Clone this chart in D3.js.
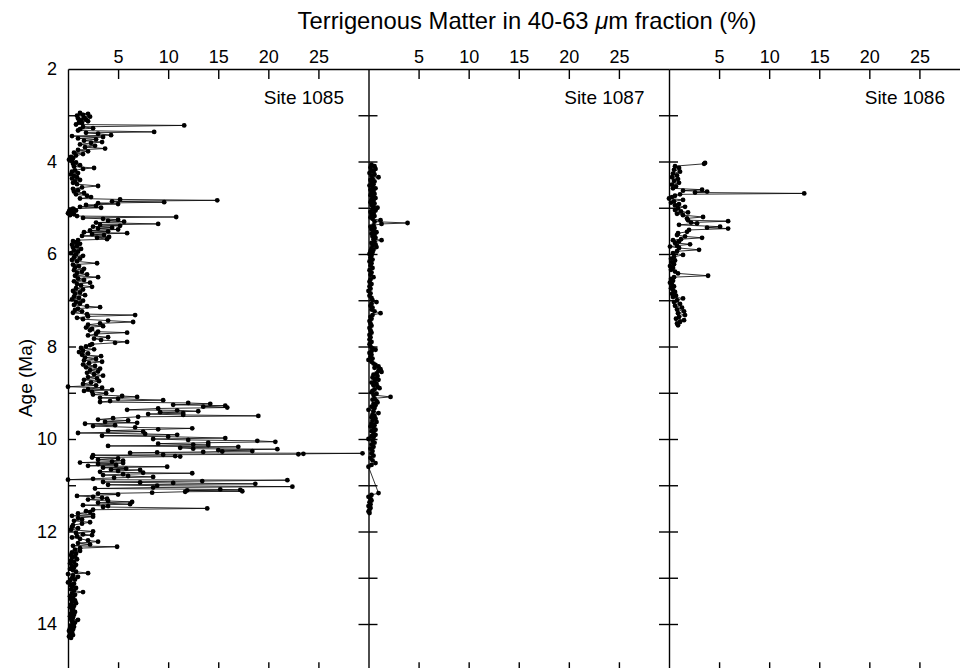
<!DOCTYPE html>
<html><head><meta charset="utf-8">
<script src="https://cdn.jsdelivr.net/npm/d3@7"></script>
<style>
html,body{margin:0;padding:0;background:#fff;}
svg{display:block;font-family:"Liberation Sans",Arial,Helvetica,sans-serif;}
</style></head>
<body>
<svg id="chart" width="960" height="668"></svg>
<script>
// ---------- DATA ----------
const siteNames = ["Site 1085", "Site 1087", "Site 1086"];
const xTickValues = [5, 10, 15, 20, 25];
const yTickLabels = [2, 4, 6, 8, 10, 12, 14];
const yMinorTicks = [3, 4, 5, 6, 7, 8, 9, 10, 11, 12, 13, 14, 15];

// [age (Ma), terrigenous matter (%)]
const site1085 = [
[2.95,1.2],[2.97,2.0],[2.99,1.5],[3.01,0.9],[3.03,2.2],[3.05,1.6],[3.07,1.0],[3.09,1.8],[3.11,1.3],[3.13,2.0],[3.15,1.1],[3.17,1.4],[3.2,0.8],
[3.22,11.6],[3.25,1.5],[3.28,2.5],[3.3,1.2],[3.33,1.0],[3.36,8.6],[3.38,1.8],[3.4,3.0],[3.43,4.3],[3.45,0.4],[3.47,3.5],[3.5,1.0],[3.52,2.8],[3.55,1.6],[3.58,3.4],[3.6,2.3],[3.63,1.2],[3.66,2.7],[3.69,1.7],[3.72,3.7],
[3.75,1.0],[3.78,2.0],[3.81,0.6],[3.84,1.5],[3.87,0.8],[3.9,0.3],[3.93,0.5],[3.96,0.1],[3.99,0.4],
[4.02,0.8],[4.05,0.5],[4.08,1.2],[4.11,0.6],[4.14,2.6],[4.16,1.5],[4.19,0.7],[4.22,0.4],[4.25,1.0],[4.28,0.3],[4.31,0.6],[4.34,0.9],[4.37,0.4],[4.4,1.2],[4.43,0.7],[4.46,0.5],
[4.49,0.9],[4.53,3.0],[4.56,1.4],[4.59,0.5],[4.62,1.0],[4.65,0.6],[4.68,1.6],[4.71,0.8],[4.74,1.9],[4.77,2.3],[4.8,1.2],[4.82,5.2],[4.84,14.9],[4.86,4.4],[4.88,9.6],[4.9,3.0],[4.92,5.0],[4.94,1.8],[4.96,2.8],[4.98,1.2],[5.0,3.3],
[5.02,0.5],[5.04,0.2],[5.06,0.8],[5.08,0.1],[5.1,0.4],[5.12,0.0],[5.14,0.6],[5.16,0.2],[5.18,0.9],[5.2,10.8],[5.22,1.5],[5.24,3.5],[5.26,5.0],[5.28,4.0],[5.3,5.6],[5.32,2.8],[5.35,9.0],[5.37,3.2],[5.39,5.2],[5.41,2.5],[5.43,4.4],[5.45,3.0],[5.47,5.0],[5.49,2.2],[5.51,4.0],[5.53,1.6],[5.55,5.9],[5.57,2.4],[5.59,3.6],[5.61,1.4],[5.63,4.1],[5.65,2.9],[5.68,3.9],[5.7,1.0],[5.72,0.5],
[5.75,0.8],[5.78,1.2],[5.8,0.4],[5.83,0.9],[5.86,0.5],[5.89,1.3],[5.92,0.6],[5.95,1.0],[5.98,0.3],[6.01,0.8],[6.04,1.5],[6.07,0.6],[6.1,1.2],[6.13,0.4],[6.16,0.9],[6.2,2.9],[6.23,0.5],[6.26,1.1],[6.29,0.7],[6.32,1.6],[6.35,0.6],[6.38,1.4],[6.41,0.9],[6.44,1.9],[6.47,0.7],[6.5,3.0],[6.53,1.0],[6.56,1.6],[6.59,0.6],[6.62,2.2],[6.65,0.9],[6.68,1.3],[6.71,2.4],[6.74,0.8],[6.77,1.5],[6.8,0.5],[6.83,1.2],[6.86,0.7],[6.89,1.7],[6.92,0.6],[6.95,1.1],[6.98,0.4],
[7.01,1.5],[7.04,0.8],[7.07,1.2],[7.1,0.6],[7.13,1.9],[7.15,3.2],[7.18,1.0],[7.21,0.7],[7.24,1.4],[7.27,0.5],[7.3,1.9],[7.32,6.7],[7.35,2.0],[7.38,0.9],[7.41,1.5],[7.44,4.0],[7.47,6.5],[7.5,3.2],[7.53,2.0],[7.56,3.5],[7.59,1.8],[7.62,2.4],[7.65,2.2],[7.68,3.0],[7.7,5.9],[7.73,2.8],[7.76,2.0],[7.8,4.0],[7.83,2.6],[7.86,3.3],[7.9,5.9],[7.92,4.7],[7.95,2.4],[7.97,2.2],[8.0,1.8],
[8.03,1.3],[8.06,2.6],[8.09,1.5],[8.12,1.1],[8.15,2.0],[8.18,1.4],[8.21,3.3],[8.24,1.7],[8.27,2.8],[8.3,1.6],[8.33,3.4],[8.36,2.1],[8.39,1.5],[8.42,2.7],[8.45,1.8],[8.48,3.2],[8.51,2.2],[8.54,3.0],[8.57,1.9],[8.6,2.6],[8.63,3.5],[8.66,2.0],[8.69,2.9],[8.72,1.6],[8.75,3.1],[8.78,2.3],[8.81,1.5],[8.84,2.8],[8.87,0.0],[8.89,3.4],[8.92,2.0],[8.94,4.4],[8.96,1.6],[8.98,2.4],
[9.01,3.8],[9.04,2.5],[9.07,5.4],[9.09,6.9],[9.11,3.2],[9.13,5.0],[9.16,9.5],[9.18,4.2],[9.2,3.2],[9.22,12.0],[9.24,14.2],[9.26,10.5],[9.28,15.7],[9.3,13.5],[9.32,15.9],[9.34,9.0],[9.37,5.9],[9.38,10.9],[9.4,13.0],[9.42,9.2],[9.44,11.5],[9.46,8.0],[9.48,11.5],[9.5,19.0],[9.52,7.0],[9.55,4.5],[9.58,3.0],[9.6,6.0],[9.63,3.7],[9.65,6.9],[9.67,1.7],[9.7,4.7],[9.72,2.5],[9.75,6.7],[9.77,12.4],[9.79,9.0],[9.82,4.0],[9.84,7.5],[9.87,1.0],[9.89,7.7],[9.91,10.9],[9.93,3.4],[9.95,10.0],[9.98,15.7],[10.0,8.5],
[10.02,12.0],[10.04,18.9],[10.06,20.7],[10.08,14.0],[10.1,9.0],[10.12,12.5],[10.13,14.0],[10.15,4.0],[10.17,17.0],[10.19,11.2],[10.21,12.5],[10.22,20.9],[10.24,15.0],[10.26,18.4],[10.27,15.4],[10.28,13.5],[10.29,8.9],[10.3,6.2],[10.31,29.4],[10.32,23.5],[10.33,23.0],[10.34,9.5],[10.35,2.5],[10.37,10.7],[10.38,11.2],[10.4,2.4],[10.42,5.0],[10.45,3.0],[10.47,5.5],[10.49,4.4],[10.51,1.2],[10.52,5.5],
[10.54,3.0],[10.56,4.8],[10.58,2.0],[10.6,9.9],[10.62,3.5],[10.64,5.8],[10.66,4.3],[10.67,7.2],[10.69,5.0],[10.71,3.2],[10.73,7.5],[10.74,12.4],[10.76,5.5],[10.78,3.5],[10.8,6.0],[10.82,8.5],[10.84,4.6],[10.86,2.5],[10.88,0.0],[10.89,21.9],[10.91,13.4],[10.93,3.5],[10.94,7.2],[10.95,10.5],[10.97,18.7],[10.99,4.0],[11.01,8.9],[11.03,22.4],[11.05,8.5],[11.07,2.7],[11.09,15.2],[11.1,17.2],[11.11,11.9],[11.13,17.4],[11.14,11.7],[11.16,8.4],[11.18,3.0],[11.2,5.0],
[11.23,0.9],[11.25,2.5],[11.27,3.4],[11.29,3.9],[11.31,2.0],[11.34,4.0],[11.36,6.4],[11.38,3.0],[11.41,6.2],[11.43,1.5],[11.45,4.0],[11.47,3.5],[11.5,13.9],[11.53,2.5],[11.56,1.8],[11.58,2.2],[11.61,1.0],[11.64,2.5],[11.66,0.4],[11.68,2.5],[11.71,1.0],[11.74,1.4],[11.77,0.6],[11.8,2.2],[11.83,1.4],[11.86,0.5],[11.9,0.4],[11.93,1.0],[11.96,0.3],
[12.0,2.5],[12.03,0.8],[12.06,1.5],[12.08,2.4],[12.1,0.9],[12.13,0.4],[12.16,1.2],[12.19,2.0],[12.22,3.0],[12.25,1.0],[12.28,2.2],[12.31,0.5],[12.33,4.9],[12.36,1.2],[12.39,0.7],[12.42,1.2],[12.45,0.4],[12.48,0.8],[12.51,0.3],[12.54,0.7],[12.57,0.4],[12.6,0.9],[12.63,0.3],[12.66,0.6],[12.69,0.2],[12.72,0.8],[12.75,0.4],[12.78,0.6],[12.81,0.2],[12.84,0.5],[12.87,0.8],[12.9,2.0],[12.92,0.0],[12.95,0.5],[12.98,1.0],
[13.01,0.4],[13.04,0.7],[13.07,0.2],[13.1,0.0],[13.13,0.6],[13.16,0.3],[13.19,0.4],[13.22,0.8],[13.25,0.3],[13.28,0.6],[13.31,1.5],[13.34,0.4],[13.37,0.7],[13.4,0.2],[13.43,0.5],[13.46,0.3],[13.49,0.7],[13.52,0.4],[13.55,0.8],[13.58,0.3],[13.61,0.6],[13.64,0.2],[13.67,0.5],[13.7,0.4],[13.74,0.7],[13.77,0.3],[13.8,0.6],[13.83,0.2],[13.86,0.5],[13.89,0.3],[13.91,1.0],[13.94,0.4],[13.97,0.7],
[14.0,0.5],[14.03,0.3],[14.06,0.6],[14.09,0.2],[14.12,0.5],[14.15,0.1],[14.18,0.4],[14.21,0.2],[14.24,0.5],[14.27,0.1],[14.3,0.3]
];

const site1087 = [
[4.07,0.3],[4.1,0.6],[4.13,0.2],[4.16,0.7],[4.19,0.3],[4.22,0.5],[4.25,0.1],[4.28,0.6],[4.31,0.3],[4.34,1.0],[4.37,0.4],[4.4,0.2],[4.43,0.6],[4.46,0.3],[4.49,0.5],[4.52,0.1],[4.55,0.4],[4.58,0.7],[4.61,0.2],[4.64,0.5],[4.67,0.3],[4.7,0.6],[4.73,0.2],[4.76,0.4],[4.79,0.7],[4.82,0.3],[4.85,0.5],[4.88,0.2],[4.91,0.6],[4.94,0.3],[4.97,0.5],
[5.0,0.9],[5.03,0.4],[5.06,0.7],[5.09,0.2],[5.12,0.5],[5.15,0.3],[5.18,0.6],[5.21,0.2],[5.24,0.4],[5.27,1.2],[5.3,0.6],[5.33,3.9],[5.35,1.3],[5.38,0.5],[5.41,0.2],[5.44,0.6],[5.47,0.3],[5.5,0.5],[5.53,0.8],[5.56,0.3],[5.59,0.6],[5.62,0.4],[5.65,0.7],[5.68,0.5],[5.7,1.3],[5.73,0.6],[5.76,0.3],[5.79,0.7],[5.82,0.4],[5.85,0.8],[5.88,0.3],[5.91,0.5],[5.94,0.2],[5.97,0.4],
[6.0,0.1],[6.04,0.3],[6.08,0.2],[6.12,0.4],[6.16,0.1],[6.2,0.3],[6.25,0.2],[6.3,0.4],[6.35,0.1],[6.4,0.3],[6.45,0.2],[6.5,0.5],[6.55,0.2],[6.6,0.1],[6.65,0.3],[6.7,0.1],[6.75,0.2],[6.8,0.0],[6.85,0.2],[6.9,0.1],[6.95,0.3],
[7.0,0.4],[7.04,0.8],[7.08,0.3],[7.12,0.2],[7.16,0.4],[7.2,0.3],[7.24,0.6],[7.28,1.2],[7.32,0.4],[7.36,0.2],[7.4,0.3],[7.45,0.1],[7.5,0.2],[7.55,0.3],[7.6,0.1],[7.65,0.2],[7.7,0.3],[7.75,0.1],[7.8,0.2],[7.85,0.1],[7.9,0.3],[7.95,0.1],
[8.0,0.2],[8.04,0.4],[8.07,0.7],[8.1,0.3],[8.14,0.1],[8.18,0.3],[8.22,0.2],[8.26,0.4],[8.29,0.0],[8.33,0.3],[8.37,0.5],[8.4,0.7],[8.43,1.0],[8.46,0.6],[8.49,1.2],[8.52,1.0],[8.55,1.3],[8.58,0.8],[8.61,0.5],[8.64,0.9],[8.67,0.4],[8.7,0.7],[8.72,1.0],[8.75,0.6],[8.78,0.3],[8.81,0.8],[8.84,0.5],[8.87,0.9],[8.9,1.1],[8.93,0.6],[8.96,0.4],[8.99,0.3],
[9.02,0.8],[9.05,0.5],[9.09,2.2],[9.12,0.6],[9.15,0.4],[9.18,0.8],[9.21,0.9],[9.24,0.5],[9.27,0.7],[9.3,0.3],[9.33,0.6],[9.37,0.0],[9.4,0.5],[9.44,1.0],[9.47,0.4],[9.5,0.6],[9.53,0.3],[9.56,0.7],[9.6,0.4],[9.63,0.8],[9.66,0.3],[9.7,0.6],[9.73,0.2],[9.76,0.5],[9.8,0.7],[9.83,0.3],[9.87,0.5],[9.91,0.7],[9.94,0.3],[9.97,0.5],
[10.0,0.0],[10.04,0.4],[10.08,0.6],[10.12,0.3],[10.17,0.5],[10.21,0.2],[10.26,0.4],[10.31,0.3],[10.36,0.5],[10.41,0.2],[10.46,0.4],[10.52,0.7],[10.56,0.3],[10.6,0.0],
[11.17,1.0],[11.21,0.3],[11.25,0.0],[11.29,0.2],[11.33,0.3],[11.37,0.1],[11.41,0.2],[11.45,0.0],[11.49,0.2],[11.53,0.1],[11.57,0.0],[11.6,0.1]
];

const site1086 = [
[4.03,3.6],[4.05,3.5],[4.1,0.6],[4.14,1.0],[4.18,0.5],[4.22,1.1],[4.26,0.4],[4.3,0.8],[4.34,0.3],[4.38,0.9],[4.42,0.5],[4.46,1.0],[4.5,0.3],[4.54,0.7],[4.58,0.4],[4.61,3.3],[4.63,1.4],[4.65,3.8],[4.67,2.6],[4.69,13.5],[4.71,1.1],[4.74,0.6],[4.77,0.3],[4.8,0.0],[4.83,1.4],[4.86,0.5],[4.89,0.2],[4.92,1.0],[4.95,0.6],[4.98,1.6],
[5.01,0.9],[5.05,0.6],[5.08,1.2],[5.1,1.9],[5.13,0.8],[5.16,1.4],[5.2,3.4],[5.23,1.8],[5.27,1.9],[5.29,5.9],[5.32,2.2],[5.34,2.8],[5.37,1.0],[5.41,5.1],[5.43,3.8],[5.45,5.9],[5.48,2.0],[5.52,1.8],[5.55,0.9],[5.59,0.8],[5.62,1.6],[5.65,3.3],[5.68,1.2],[5.7,0.4],[5.73,1.0],[5.76,0.6],[5.79,2.1],[5.82,0.8],[5.84,0.1],[5.87,1.0],[5.91,3.0],[5.94,0.8],[5.98,0.4],
[6.02,1.4],[6.06,0.5],[6.1,0.2],[6.14,0.6],[6.18,0.3],[6.22,0.5],[6.26,0.1],[6.3,0.4],[6.34,0.2],[6.38,0.6],[6.42,0.9],[6.47,3.9],[6.5,0.5],[6.54,0.2],[6.58,0.4],[6.62,0.1],[6.66,0.3],[6.7,0.5],[6.74,0.2],[6.78,0.4],[6.82,0.6],[6.86,0.3],[6.9,0.7],[6.93,0.4],[6.96,1.4],
[7.0,0.8],[7.04,0.5],[7.08,1.1],[7.12,0.6],[7.16,1.3],[7.2,0.8],[7.24,1.5],[7.28,0.9],[7.32,1.6],[7.36,1.0],[7.4,0.7],[7.43,1.5],[7.47,1.1],[7.5,0.8],[7.54,0.9]
];

const sites = [site1085, site1087, site1086];

// ---------- LAYOUT ----------
const svg = d3.select("#chart");
const yTop = 69, yBottom = 670.25;
const panelLeft = [68, 368.5, 669];
const panelW = 300.5;

const y = d3.scaleLinear().domain([2, 15]).range([yTop, yBottom]);

// Title
const title = svg.append("text")
  .attr("x", 527).attr("y", 29)
  .attr("text-anchor", "middle")
  .attr("font-size", 23.8)
  .attr("fill", "#000");
title.append("tspan").text("Terrigenous Matter in 40-63 ");
title.append("tspan").attr("font-style", "italic").text("\u03bc");
title.append("tspan").text("m fraction (%)");

// Y-axis label
svg.append("text")
  .attr("transform", "translate(32," + 378 + ") rotate(-90)")
  .attr("text-anchor", "middle")
  .attr("font-size", 19)
  .text("Age (Ma)");

// Left labels (panel 1)
const yLab = d3.axisLeft(y).tickValues(yTickLabels).tickSize(0).tickPadding(11).tickFormat(d3.format("d"));
const gyl = svg.append("g").attr("transform", "translate(" + panelLeft[0] + ",0)").call(yLab);
gyl.select(".domain").remove();
gyl.selectAll("text").attr("font-size", 18).attr("font-family", "Liberation Sans, Arial, sans-serif").attr("fill", "#000");

sites.forEach((data, i) => {
  const x0 = panelLeft[i];
  const x = d3.scaleLinear().domain([0, 30]).range([x0, x0 + panelW]);
  const g = svg.append("g");

  // top axis
  const gt = g.append("g").attr("transform", "translate(0," + yTop + ")")
    .call(d3.axisTop(x).tickValues(xTickValues).tickSizeInner(-10).tickSizeOuter(0).tickPadding(6));
  gt.select(".domain").attr("stroke", "#000").attr("stroke-width", 1.4);
  gt.selectAll(".tick line").attr("stroke-width", 1.4);
  gt.selectAll("text").attr("font-size", 18).attr("font-family", "Liberation Sans, Arial, sans-serif").attr("fill", "#000");

  // bottom axis
  const gb = g.append("g").attr("transform", "translate(0," + yBottom + ")")
    .call(d3.axisBottom(x).tickValues(xTickValues).tickSizeInner(-8).tickSizeOuter(0).tickFormat(""));
  gb.select(".domain").attr("stroke-width", 1.4);
  gb.selectAll(".tick line").attr("stroke-width", 1.4);

  // vertical axis
  if (i === 0) {
    const gv = g.append("g").attr("transform", "translate(" + x0 + ",0)")
      .call(d3.axisRight(y).tickValues(yMinorTicks).tickSizeInner(8).tickSizeOuter(0).tickFormat(""));
    gv.select(".domain").attr("stroke-width", 1.4);
    gv.selectAll(".tick line").attr("stroke-width", 1.4);
  } else {
    const gv = g.append("g").attr("transform", "translate(" + x0 + ",0)")
      .call(d3.axisRight(y).tickValues(yMinorTicks).tickSizeInner(9).tickSizeOuter(0).tickFormat(""));
    gv.select(".domain").attr("stroke-width", 1.4);
    gv.selectAll(".tick line").attr("stroke-width", 1.4);
    const gv2 = g.append("g").attr("transform", "translate(" + x0 + ",0)")
      .call(d3.axisLeft(y).tickValues(yMinorTicks).tickSizeInner(10).tickSizeOuter(0).tickFormat(""));
    gv2.select(".domain").remove();
    gv2.selectAll(".tick line").attr("stroke-width", 1.4);
  }

  // site label
  g.append("text")
    .attr("x", x0 + 276).attr("y", 104)
    .attr("text-anchor", "end")
    .attr("font-size", 19)
    .text(siteNames[i]);

  // data line
  const line = d3.line().x(d => x(d[1])).y(d => y(d[0]));
  g.append("path").datum(data)
    .attr("d", line)
    .attr("fill", "none")
    .attr("stroke", "#000")
    .attr("stroke-width", 0.8);

  g.selectAll("circle.pt").data(data).join("circle")
    .attr("class", "pt")
    .attr("cx", d => x(d[1]))
    .attr("cy", d => y(d[0]))
    .attr("r", 2.4)
    .attr("fill", "#000");
});
</script>
</body></html>
